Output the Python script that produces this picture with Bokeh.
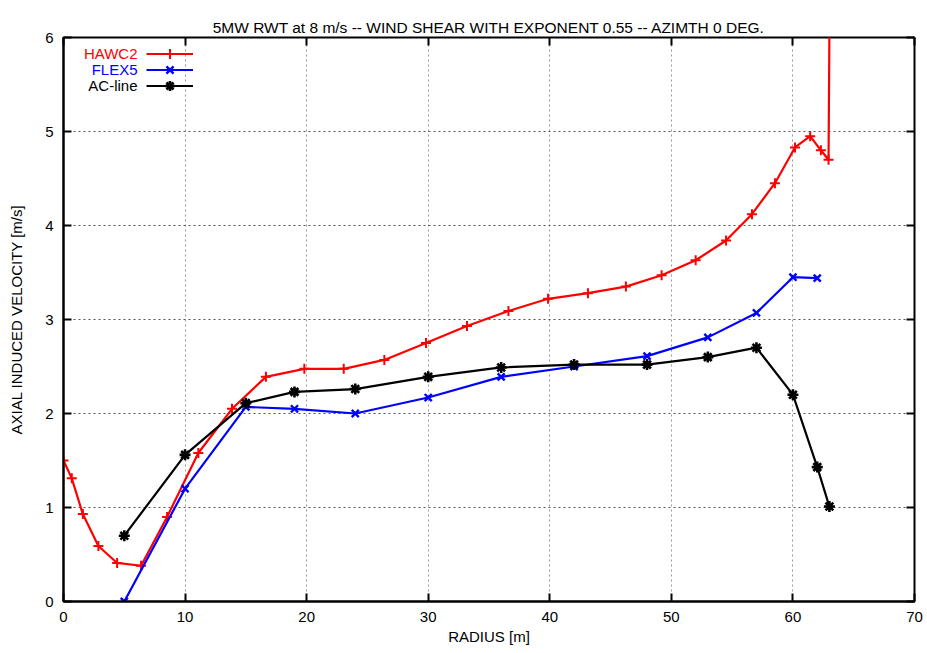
from bokeh.plotting import figure
from bokeh.models import Range1d, LinearAxis, Legend, LegendItem, Label, FixedTicker
from bokeh.embed import file_html
from bokeh.resources import INLINE

hawc2_r = [0.0, 0.68, 1.59, 2.87, 4.41, 6.38, 8.52, 11.09, 13.86, 16.65, 19.81, 23.05,
           26.39, 29.82, 33.19, 36.6, 39.86, 43.14, 46.26, 49.2, 52.0, 54.5, 56.63,
           58.52, 60.17, 61.42, 62.3, 62.93, 63.05]
hawc2_v = [1.50, 1.31, 0.93, 0.59, 0.41, 0.38, 0.90, 1.58, 2.05, 2.39, 2.475, 2.475,
           2.57, 2.75, 2.93, 3.09, 3.22, 3.28, 3.35, 3.47, 3.63, 3.84, 4.12,
           4.45, 4.83, 4.95, 4.80, 4.70, 7.0]

flex5_r = [5.0, 10.0, 15.0, 19.0, 24.0, 30.0, 36.0, 42.0, 48.0, 53.0, 57.0, 60.0, 62.0]
flex5_v = [0.0, 1.20, 2.07, 2.05, 2.0, 2.17, 2.39, 2.50, 2.61, 2.81, 3.07, 3.45, 3.44]

acl_r = [5.0, 10.0, 15.0, 19.0, 24.0, 30.0, 36.0, 42.0, 48.0, 53.0, 57.0, 60.0, 62.0, 63.0]
acl_v = [0.70, 1.56, 2.11, 2.23, 2.26, 2.39, 2.49, 2.52, 2.52, 2.60, 2.70, 2.20, 1.43, 1.01]

x_ticks = [0, 10, 20, 30, 40, 50, 60, 70]
y_ticks = [0, 1, 2, 3, 4, 5, 6]

TITLE = "5MW RWT at 8 m/s -- WIND SHEAR WITH EXPONENT 0.55 -- AZIMTH 0 DEG."
FONT = "Liberation Sans"
FS = "15px"

p = figure(width=927, height=653, x_range=Range1d(0, 70), y_range=Range1d(0, 6),
           output_backend="svg", toolbar_location=None,
           min_border_left=63, min_border_right=13, min_border_top=37, min_border_bottom=52,
           title=TITLE)
p.title.align = "center"
p.title.vertical_align = "top"
p.title.standoff = 0
p.title.text_font = FONT
p.title.text_font_size = "15.5px"
p.title.text_font_style = "normal"
p.title.text_color = "black"

p.outline_line_color = "black"
p.outline_line_width = 2
p.outline_line_alpha = 1

for ax in [p.xaxis[0], p.yaxis[0]]:
    ax.major_tick_in = 8
    ax.major_tick_out = 0
    ax.minor_tick_line_color = None
    ax.major_label_text_font = FONT
    ax.major_label_text_font_size = FS
    ax.major_label_text_color = "black"
    ax.axis_label_text_font = FONT
    ax.axis_label_text_font_size = FS
    ax.axis_label_text_font_style = "normal"
    ax.axis_label_text_color = "black"
    ax.axis_line_width = 2
    ax.major_tick_line_width = 2

p.xaxis.ticker = FixedTicker(ticks=x_ticks)
p.yaxis.ticker = FixedTicker(ticks=y_ticks)
p.xaxis.axis_label = "RADIUS [m]"
p.yaxis.axis_label = "AXIAL INDUCED VELOCITY [m/s]"
p.xaxis.major_label_standoff = 10
p.yaxis.major_label_standoff = 10
p.xaxis.axis_label_standoff = 3
p.yaxis.axis_label_standoff = 17

# mirror ticks
top = LinearAxis(ticker=FixedTicker(ticks=x_ticks), major_tick_in=8, major_tick_out=0,
                 minor_tick_line_color=None, major_label_text_font_size="0px",
                 axis_line_color=None, major_tick_line_width=2, major_label_standoff=0)
right = LinearAxis(ticker=FixedTicker(ticks=y_ticks), major_tick_in=8, major_tick_out=0,
                   minor_tick_line_color=None, major_label_text_font_size="0px",
                   axis_line_color=None, major_tick_line_width=2, major_label_standoff=0)
p.add_layout(top, "above")
p.add_layout(right, "right")

p.xgrid.grid_line_color = "#999999"
p.ygrid.grid_line_color = "#555555"
p.grid.grid_line_dash = "2 3"
p.grid.grid_line_width = 1

l1 = p.line(hawc2_r, hawc2_v, line_color="#ff0000", line_width=2.2)
m1 = p.scatter(hawc2_r, hawc2_v, marker="cross", size=10, line_color="#ff0000", line_width=2)
l2 = p.line(flex5_r, flex5_v, line_color="#0000ff", line_width=2.2)
m2 = p.scatter(flex5_r, flex5_v, marker="x", size=10, line_color="#0000ff", line_width=2.4)
l3 = p.line(acl_r, acl_v, line_color="black", line_width=2.2)
m3 = p.scatter(acl_r, acl_v, marker="asterisk", size=11, line_color="black", line_width=2.6)

names = ["HAWC2", "FLEX5", "AC-line"]
colors = ["#ff0000", "#0000ff", "black"]
rends = [(l1, m1), (l2, m2), (l3, m3)]
for i, (nm, c, rr) in enumerate(zip(names, colors, rends)):
    cy = 548 - 16 * i
    lg = Legend(items=[LegendItem(label=" ", renderers=list(rr))],
                location=(83, cy - 12.5), glyph_width=47, glyph_height=25, spacing=0,
                label_width=0, label_height=0, label_standoff=0, label_text_font_size="1px",
                padding=0, margin=0, border_line_color=None, background_fill_alpha=0)
    p.add_layout(lg)
    p.add_layout(Label(x=74, y=cy, x_units="screen", y_units="screen", text=nm,
                       text_align="right", text_baseline="middle", text_color=c,
                       text_font=FONT, text_font_size=FS))

open("out.html", "w").write(file_html(p, INLINE))
